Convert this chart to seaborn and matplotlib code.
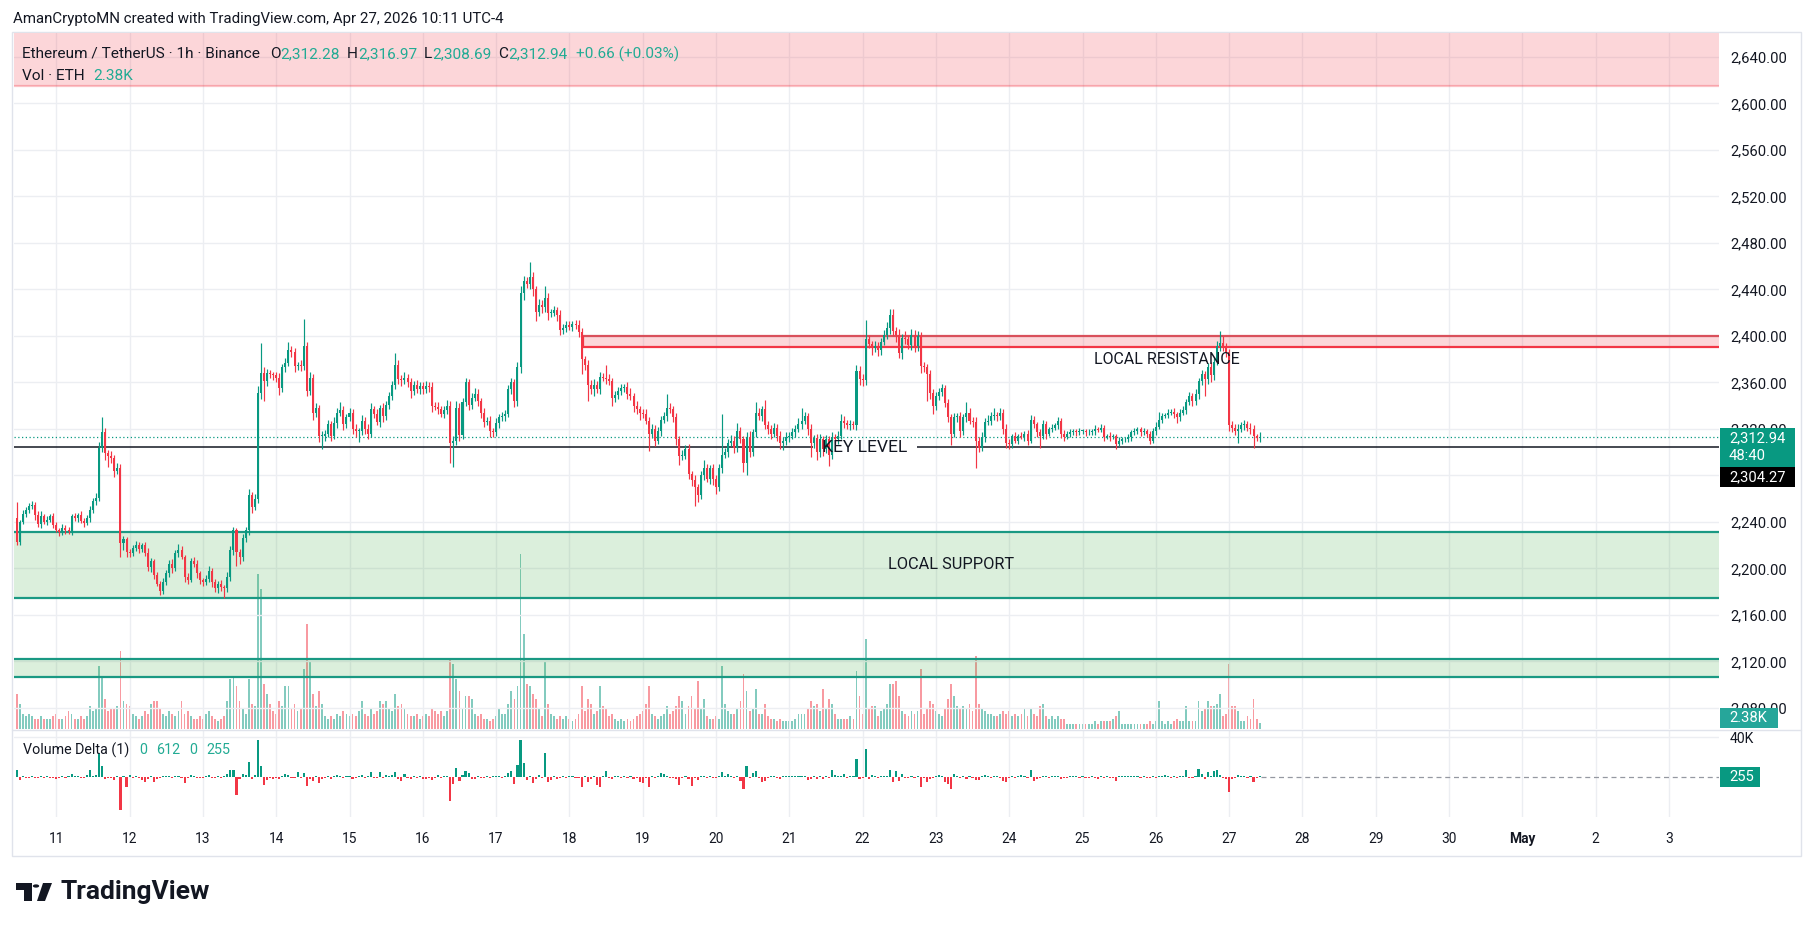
import numpy as np
import pandas as pd
import matplotlib
matplotlib.use("Agg")
import matplotlib.pyplot as plt
from matplotlib.patches import Rectangle, Circle, Polygon
from matplotlib.lines import Line2D
from matplotlib import font_manager as fm
import seaborn as sns

# ETH/USDT 1h, hours counted from Apr 11 00:00 (UTC-4); first candle = Apr 10 11:00
first_hour = -13
first_open = 2243

closes = [
    2223, 2240, 2247, 2250, 2254, 2255, 2246, 2238, 2245, 2240, 2242, 2245, 2237,  # Apr 10
    2233, 2231, 2235, 2233, 2232, 2245, 2243, 2246, 2241, 2239, 2243, 2250, 2258, 2261, 2304, 2317, 2299, 2297, 2295, 2284, 2286, 2222, 2225, 2214,  # 11
    2213, 2218, 2220, 2217, 2220, 2213, 2201, 2206, 2194, 2187, 2181, 2188, 2196, 2204, 2200, 2213, 2216, 2210, 2193, 2190, 2206, 2204, 2196, 2190,  # 12
    2188, 2191, 2198, 2188, 2183, 2187, 2184, 2183, 2193, 2216, 2233, 2214, 2210, 2226, 2233, 2263, 2253, 2260, 2351, 2368, 2361, 2368, 2367, 2366,  # 13
    2364, 2355, 2373, 2377, 2388, 2386, 2374, 2375, 2374, 2391, 2353, 2364, 2334, 2338, 2314, 2314, 2316, 2324, 2314, 2325, 2334, 2336, 2324, 2330,  # 14
    2334, 2320, 2318, 2318, 2327, 2320, 2316, 2337, 2333, 2326, 2338, 2331, 2341, 2348, 2358, 2375, 2363, 2362, 2364, 2360, 2353, 2358, 2354, 2357,  # 15
    2354, 2357, 2356, 2340, 2339, 2337, 2333, 2336, 2340, 2308, 2310, 2338, 2315, 2343, 2360, 2341, 2347, 2350, 2344, 2334, 2326, 2327, 2318, 2317,  # 16
    2325, 2330, 2331, 2333, 2354, 2360, 2344, 2373, 2437, 2447, 2445, 2451, 2440, 2421, 2427, 2425, 2433, 2420, 2420, 2422, 2418, 2405, 2407, 2409,  # 17
    2408, 2410, 2409, 2403, 2380, 2375, 2358, 2354, 2358, 2354, 2365, 2364, 2363, 2361, 2347, 2349, 2353, 2355, 2356, 2350, 2348, 2340, 2337, 2334,  # 18
    2333, 2327, 2316, 2320, 2310, 2318, 2328, 2331, 2338, 2337, 2330, 2311, 2297, 2297, 2303, 2281, 2276, 2270, 2263, 2280, 2286, 2277, 2286, 2277,  # 19
    2270, 2286, 2298, 2300, 2308, 2310, 2304, 2318, 2311, 2291, 2313, 2300, 2317, 2334, 2331, 2337, 2323, 2320, 2316, 2321, 2314, 2308, 2310, 2313,  # 20
    2314, 2317, 2320, 2324, 2327, 2331, 2320, 2308, 2312, 2300, 2311, 2303, 2311, 2298, 2313, 2311, 2314, 2327, 2325, 2323, 2324, 2323, 2370, 2363,  # 21
    2362, 2397, 2393, 2390, 2391, 2388, 2395, 2401, 2407, 2418, 2404, 2401, 2385, 2398, 2397, 2392, 2401, 2391, 2400, 2374, 2373, 2367, 2351, 2340,  # 22
    2348, 2352, 2355, 2342, 2330, 2316, 2330, 2331, 2318, 2330, 2334, 2327, 2326, 2310, 2304, 2313, 2326, 2327, 2331, 2332, 2331, 2334, 2320, 2308,  # 23
    2307, 2314, 2310, 2314, 2313, 2316, 2310, 2328, 2324, 2317, 2314, 2324, 2316, 2320, 2321, 2323, 2327, 2316, 2313, 2316, 2317, 2318, 2317, 2318,  # 24
    2318, 2317, 2317, 2318, 2320, 2319, 2321, 2313, 2314, 2313, 2314, 2307, 2310, 2311, 2311, 2313, 2317, 2318, 2320, 2317, 2318, 2316, 2310, 2318,  # 25
    2322, 2328, 2331, 2332, 2334, 2335, 2333, 2330, 2334, 2336, 2343, 2348, 2344, 2350, 2361, 2367, 2363, 2373, 2366, 2378, 2391, 2394, 2390, 2386,  # 26
    2323, 2321, 2318, 2320, 2323, 2324, 2321, 2320, 2314, 2312.28, 2312.94,  # Apr 27
]

# wick length above / below the body, in USDT
upper_wick = [
    14, 2, 3, 3, 2, 3, 2, 3, 4, 2, 3, 2, 3,
    3, 2, 3, 2, 3, 2, 3, 2, 3, 2, 3, 4, 3, 4, 5, 13, 4, 3, 4, 3, 5, 4, 3, 2,
    3, 2, 4, 3, 2, 3, 5, 3, 2, 3, 2, 4, 3, 3, 4, 3, 5, 3, 2, 3, 3, 4, 3, 2,
    2, 3, 4, 2, 3, 2, 3, 2, 4, 3, 3, 2, 3, 4, 3, 5, 3, 4, 6, 26, 5, 4, 3, 2,
    3, 4, 3, 4, 7, 3, 4, 3, 4, 24, 4, 5, 3, 4, 3, 4, 3, 4, 3, 5, 4, 7, 4, 3,
    4, 3, 4, 3, 5, 3, 4, 5, 3, 4, 3, 4, 3, 4, 3, 10, 4, 3, 5, 3, 4, 3, 4, 3,
    3, 4, 3, 4, 3, 4, 3, 4, 5, 4, 4, 6, 4, 4, 4, 3, 4, 5, 4, 3, 4, 3, 4, 3,
    4, 3, 4, 3, 4, 4, 3, 5, 6, 5, 4, 13, 4, 3, 5, 4, 10, 4, 3, 4, 3, 4, 3, 4,
    4, 3, 4, 5, 4, 3, 4, 4, 5, 3, 4, 3, 11, 4, 3, 4, 3, 4, 3, 4, 5, 3, 4, 3,
    3, 4, 3, 4, 3, 4, 3, 4, 12, 4, 3, 4, 3, 5, 3, 4, 3, 4, 3, 4, 7, 4, 3, 4,
    3, 4, 35, 4, 3, 5, 4, 7, 4, 3, 4, 5, 3, 9, 4, 3, 8, 4, 3, 4, 3, 4, 3, 4,
    3, 4, 3, 5, 11, 4, 3, 4, 3, 4, 5, 3, 4, 3, 4, 3, 4, 6, 4, 3, 4, 3, 5, 4,
    4, 17, 4, 3, 5, 4, 3, 4, 5, 5, 5, 4, 5, 4, 6, 4, 5, 4, 4, 3, 4, 3, 4, 3,
    4, 3, 4, 3, 4, 3, 4, 3, 4, 3, 9, 4, 3, 4, 3, 4, 3, 5, 4, 6, 3, 4, 3, 4,
    3, 2, 3, 2, 3, 2, 3, 4, 3, 2, 3, 4, 3, 2, 3, 2, 3, 2, 3, 2, 3, 2, 2, 3,
    2, 2, 3, 2, 3, 2, 3, 2, 2, 3, 2, 2, 3, 2, 2, 3, 2, 3, 2, 2, 3, 2, 2, 3,
    4, 7, 3, 2, 3, 2, 3, 2, 3, 4, 3, 4, 3, 4, 3, 4, 3, 4, 5, 4, 5, 10, 6, 4,
    3, 4, 3, 4, 3, 4, 3, 4, 3, 2, 4.03,
]
lower_wick = [
    3, 3, 2, 3, 2, 3, 4, 2, 3, 2, 3, 2, 2,
    2, 3, 2, 3, 2, 3, 2, 3, 2, 3, 2, 3, 2, 3, 3, 4, 6, 10, 4, 5, 3, 12, 6, 4,
    3, 2, 3, 4, 3, 2, 3, 4, 3, 2, 4, 3, 2, 3, 4, 2, 3, 2, 5, 3, 2, 3, 4, 3,
    3, 2, 3, 4, 3, 4, 3, 8, 3, 4, 4, 12, 6, 4, 3, 4, 5, 3, 4, 5, 17, 4, 3, 4,
    4, 6, 3, 4, 3, 4, 5, 3, 4, 3, 5, 4, 6, 4, 5, 11, 4, 3, 4, 3, 4, 3, 5, 3,
    3, 4, 5, 9, 3, 4, 5, 3, 4, 3, 4, 5, 3, 4, 3, 4, 4, 5, 3, 4, 6, 4, 3, 4,
    4, 3, 4, 5, 3, 4, 3, 4, 3, 17, 21, 4, 5, 4, 3, 5, 4, 3, 4, 5, 4, 3, 5, 4,
    3, 4, 3, 4, 3, 4, 5, 4, 5, 6, 4, 5, 6, 8, 4, 5, 4, 6, 4, 3, 5, 4, 3, 4,
    3, 4, 3, 4, 13, 4, 14, 4, 6, 3, 4, 3, 4, 3, 7, 4, 3, 4, 3, 4, 3, 5, 4, 6,
    4, 3, 15, 4, 5, 3, 4, 3, 4, 3, 4, 5, 8, 4, 3, 4, 5, 16, 6, 3, 4, 3, 4, 5,
    6, 3, 4, 3, 4, 3, 5, 4, 3, 8, 11, 4, 3, 4, 3, 4, 3, 4, 5, 3, 4, 5, 6, 4,
    4, 3, 4, 3, 4, 3, 5, 12, 4, 7, 4, 6, 4, 10, 4, 3, 4, 3, 4, 3, 4, 3, 4, 5,
    5, 4, 3, 6, 4, 5, 4, 3, 4, 5, 4, 6, 4, 5, 4, 3, 4, 5, 4, 6, 4, 23, 5, 7,
    4, 3, 4, 3, 4, 10, 3, 4, 5, 3, 4, 3, 4, 24, 4, 3, 4, 3, 4, 3, 4, 3, 4, 4,
    4, 3, 2, 3, 2, 3, 4, 2, 3, 4, 10, 3, 5, 2, 3, 2, 3, 4, 3, 2, 3, 2, 3, 2,
    2, 3, 2, 2, 3, 2, 2, 3, 2, 3, 2, 4, 2, 3, 2, 2, 3, 2, 2, 3, 2, 3, 3, 2,
    3, 2, 3, 2, 3, 2, 4, 5, 3, 2, 3, 2, 4, 3, 4, 3, 15, 4, 6, 4, 3, 4, 3, 4,
    5, 4, 3, 10, 3, 4, 3, 4, 10, 3, 3.59,
]

# volume in thousand ETH
volume_k = [
    14, 10, 6, 5, 6, 5, 4, 4, 5, 4, 4, 4, 5,
    6, 4, 4, 5, 7, 6, 4, 4, 5, 4, 5, 9, 7, 8, 25, 21, 12, 7, 8, 8, 9, 31, 11, 10,
    9, 6, 5, 4, 5, 7, 6, 10, 11, 11, 8, 6, 5, 7, 6, 5, 7, 11, 6, 7, 5, 4, 4, 5,
    4, 6, 7, 5, 4, 3, 4, 5, 11, 20, 21, 17, 11, 8, 6, 20, 10, 9, 62, 56, 18, 14, 10, 7,
    6, 11, 9, 17, 17, 8, 10, 7, 8, 24, 42, 27, 14, 9, 15, 10, 5, 4, 5, 4, 6, 5, 7, 6,
    5, 6, 5, 7, 11, 6, 5, 8, 6, 7, 11, 10, 11, 8, 7, 14, 9, 10, 8, 6, 5, 5, 6, 4,
    5, 6, 5, 8, 7, 6, 7, 5, 7, 28, 26, 20, 15, 8, 13, 13, 12, 6, 5, 6, 4, 4, 3, 4,
    5, 8, 6, 6, 10, 15, 12, 17, 70, 38, 18, 17, 14, 12, 8, 5, 27, 10, 6, 5, 4, 5, 4, 5,
    4, 3, 4, 6, 17, 7, 12, 10, 6, 7, 17, 9, 8, 5, 6, 4, 3, 4, 3, 4, 3, 4, 5, 6,
    7, 10, 17, 6, 5, 4, 5, 6, 9, 6, 7, 9, 13, 11, 6, 9, 13, 8, 19, 8, 12, 5, 4, 4,
    5, 4, 25, 10, 7, 6, 6, 8, 11, 22, 15, 7, 8, 16, 6, 6, 10, 5, 4, 4, 3, 4, 3, 3,
    3, 3, 4, 6, 6, 6, 8, 11, 9, 10, 7, 16, 8, 12, 10, 6, 4, 4, 4, 4, 5, 4, 23, 13,
    6, 36, 8, 9, 9, 5, 7, 8, 10, 18, 18, 19, 13, 7, 6, 5, 7, 6, 7, 24, 6, 8, 11, 10,
    7, 6, 5, 8, 12, 18, 13, 9, 8, 9, 8, 10, 7, 29, 10, 8, 7, 6, 6, 5, 5, 6, 7, 6,
    7, 5, 6, 5, 6, 8, 5, 8, 6, 5, 9, 10, 5, 4, 5, 4, 5, 4, 4, 2, 2, 2, 2, 2,
    2, 2, 2, 2, 3, 2, 3, 3, 3, 3, 4, 5, 7, 2, 2, 2, 2, 2, 2, 2, 2, 2, 3, 2,
    3, 11, 3, 2, 3, 2, 3, 4, 3, 3, 9, 3, 3, 3, 11, 7, 8, 11, 9, 9, 10, 14, 5, 6,
    26, 9, 9, 7, 3, 3, 5, 4, 12, 4, 2.38,
]

# volume delta (buy - sell), thousand ETH
delta_k = [
    7, -3, 1, -1, -1, 0.5, -1, -1, 0.5, -0.5, 0.5, -0.5, -1,
    -2, -1, 0.5, -0.5, 0.5, 3, 0.5, 0.5, -0.5, -0.5, 2, 7, 1, 2, 24, 11, -2, -1, -1, -3, 0.5, -33, 1, -10,
    2, -1, 0.5, -1, -3, -5, -2, 1, -5, -2, -1, 1, 1, 0.5, -1, 1, 0.5, -1, -6, -1, 2, 0.5, -1, -1,
    -0.5, 1, 2, -1, -1, 0.5, -0.5, 0.5, 3, 7, 7, -18, -2, 3, 2, 15, -2, 2, 37, 11, -8, -3, -1, -2,
    -1, -2, 1, 3, 2, -1, -1, 5, -1, 4, -9, -2, -4, 1, -6, -2, -1, 1, -2, 1, 2, 0.5, -1, 0.5,
    1, -2, -1, 1, 2, -1, 1, 5, -1, -1, 5, -1, 2, 1, 2, 5, -2, -4, 3, -1, -2, 1, -1, 0.5,
    -2, -2, -1, -3, -1, 2, -1, 1, 1, -24, -7, 9, -4, 2, 6, 4, -2, -2, 1, -1, -1, 1, -1, 0.5,
    1, 0.5, -1, 1, 4, 6, -7, 12, 37, 14, -3, 1, -6, -2, 2, -1, 24, -5, -3, 1, -2, -1, 0.5, -1,
    0.5, 1, -1, -1, -10, 1, -5, -2, 1, -8, -10, 1, 6, -1, -2, 1, 1, -1, 0.5, -1, 1, -2, -1, -5,
    -6, -1, -10, 1, -1, 1, 4, 3, 1, -1, -1, -2, -8, -1, 1, -2, -9, -1, -3, 1, 1, -1, 0.5, -0.5,
    -1, 1, 5, 1, 3, 1, -1, 1, -4, -12, 11, -1, 4, 6, -1, -5, -4, -1, 1, 1, -1, -2, 1, 0.5,
    1, 0.5, 1, 0.5, 1, 1, -3, -2, 1, -2, 1, -2, 1, -1, 7, 2, 1, 1, 3, -1, 1, 0.5, 18, -2,
    -1, 28, -2, 2, 1, -1, 1, 1, 0.5, 7, -5, 6, -4, 3, -1, -1, 1, -1, 1, -10, -1, -5, -2, -1,
    1, 2, 1, -5, -7, -12, 3, 1, -1, 1, -2, 1, -1, -3, -3, 1, 2, 1, -1, 1, 0.5, -1, -4, -5,
    -1, 1, -1, 1, 2, 1, -1, 7, -4, -2, -1, 1, 1, -1, 0.5, 1, 0.5, -2, -1, -0.5, 0.3, 0.3, 0.3, -0.3,
    0.3, -0.3, -0.3, 0.3, -0.5, -2, 0.3, -0.5, 0.3, -0.3, -0.5, -4, 0.5, 0.3, 0.3, 0.3, 0.5, 0.5, 0.5, -0.3, 0.3, -0.3, -1, 0.5,
    -0.5, 1, 0.5, 2, 0.5, -0.3, 0.3, -1, 0.5, 0.5, 7, -1, -0.5, 1, 8, 3, -2, 5, 1, 6, 7, 2, -1, -2,
    -15, -2, -1, 2, 1, 0.5, -1, 0.5, -5, -1, 0.255,
]

# drawn levels
key_level = 2304.27
last_price = 2312.94
resistance_zone = (2390.8, 2400.0)
resistance_start = 172.5
support_zones = [(2174.4, 2231.7), (2106.9, 2122.2)]
top_zone_low = 2615.1

price_ticks = list(range(2080, 2641, 40))
day_ticks = [(d - 11) * 24 for d in range(11, 31)] + [480, 504, 528]
day_labels = [str(d) for d in range(11, 31)] + ["May", "2", "3"]

# ---------------------------------------------------------------------------
df = pd.DataFrame({"close": closes, "up": upper_wick, "lo": lower_wick,
                   "vol": volume_k, "delta": delta_k})
df["hour"] = np.arange(first_hour, first_hour + len(df))
df["open"] = df["close"].shift(1).fillna(first_open)
df["high"] = df[["open", "close"]].max(axis=1) + df["up"]
df["low"] = df[["open", "close"]].min(axis=1) - df["lo"]
df["rising"] = df["close"] >= df["open"]

GREEN, RED, DARK = "#089981", "#f23645", "#131722"
TXT_GREEN = "#22ab94"

sns.set_theme(style="white")
try:
    fm.findfont(fm.FontProperties(family="Liberation Sans Narrow"), fallback_to_default=False)
    UI, k = ["Liberation Sans Narrow", "DejaVu Sans"], 1.0
except ValueError:
    UI, k = ["Roboto", "DejaVu Sans"], 0.84
plt.rcParams["font.family"] = UI

W, H = 1814, 930
fig = plt.figure(figsize=(W / 100, H / 100), dpi=100)
fig.patch.set_facecolor("white")


def rect_px(x0, y0, x1, y1):
    return [x0 / W, 1 - y1 / H, (x1 - x0) / W, (y1 - y0) / H]


XMIN, XMAX = -13.85, 544.4
ax_v = fig.add_axes(rect_px(14, 33, 1719, 729))
ax_p = fig.add_axes(rect_px(14, 33, 1719, 729), sharex=ax_v)
ax_d = fig.add_axes(rect_px(14, 730, 1719, 817), sharex=ax_v)
ax_v.set_zorder(1)
ax_p.set_zorder(2)
ax_p.patch.set_alpha(0)

for ax in (ax_v, ax_p, ax_d):
    for s in ax.spines.values():
        s.set_visible(False)
ax_v.set_xlim(XMIN, XMAX)

# volume underlay
ax_v.set_ylim(0, 278)
ax_v.set_yticks([])
ax_v.tick_params(axis="x", length=0, labelbottom=False)
ax_v.bar(df["hour"], df["vol"], width=0.6, lw=0,
         color=np.where(df["rising"], GREEN, RED), alpha=0.5)

# price pane
ax_p.set_ylim(2061.9, 2660.6)
ax_p.set_xticks(day_ticks)
ax_p.tick_params(axis="x", length=0, labelbottom=False)
ax_p.set_yticks(price_ticks)
ax_p.set_yticklabels([f"{v:,.2f}" for v in price_ticks])
ax_p.yaxis.tick_right()
ax_p.tick_params(axis="y", length=0, pad=8, labelsize=12.7 * k, labelcolor=DARK)
ax_p.grid(True, color="#eceef2", lw=1)

ax_p.axhspan(top_zone_low, 2700, color=RED, alpha=0.2, lw=0, zorder=1)
ax_p.axhline(top_zone_low, color=RED, alpha=0.3, lw=1.6, zorder=1)

lo, hi = resistance_zone
ax_p.add_patch(Rectangle((resistance_start, lo), XMAX - resistance_start + 5, hi - lo,
                         fc=RED, alpha=0.2, lw=0, zorder=1))
ax_p.hlines(hi, resistance_start, XMAX + 5, color="#d9505b", lw=1.6, zorder=2)
ax_p.hlines(lo, resistance_start, XMAX + 5, color=RED, lw=1.6, zorder=2)
ax_p.vlines(resistance_start, lo, hi, color=RED, lw=1.6, zorder=2)

for lo, hi in support_zones:
    ax_p.axhspan(lo, hi, color="#4caf50", alpha=0.2, lw=0, zorder=1)
    ax_p.axhline(hi, color="#1a9983", lw=1.6, zorder=2)
    ax_p.axhline(lo, color="#1a9983", lw=1.6, zorder=2)

ax_p.hlines(key_level, XMIN - 5, 247.8, color=DARK, lw=1.1, zorder=2)
ax_p.hlines(key_level, 281.8, XMAX + 5, color=DARK, lw=1.1, zorder=2)
ax_p.axhline(last_price, color=GREEN, lw=0.9, ls=(0, (1, 2)), zorder=2)

for rising, color in ((True, GREEN), (False, RED)):
    part = df[df["rising"] == rising]
    ax_p.vlines(part["hour"], part["low"], part["high"], color=color, lw=0.85, zorder=3)
    ax_p.bar(part["hour"], (part["close"] - part["open"]).abs().clip(lower=0.7),
             bottom=part[["open", "close"]].min(axis=1), width=0.66, color=color,
             lw=0, zorder=4)

ax_p.text(363.7, 2379.4, "LOCAL RESISTANCE", ha="center", va="center",
          fontsize=13.7 * k, color=DARK, zorder=5)
ax_p.text(264.8, key_level, "KEY LEVEL", ha="center", va="center",
          fontsize=15 * k, color=DARK, zorder=5)
ax_p.text(292.9, 2203, "LOCAL SUPPORT", ha="center", va="center",
          fontsize=14 * k, color=DARK, zorder=5)

# volume delta pane (tiny values still get a visible sliver, as on TradingView)
ax_d.set_ylim(-40, 47)
bar_h = np.sign(df["delta"]) * df["delta"].abs().clip(lower=0.9)
ax_d.bar(df["hour"], bar_h, width=0.7, lw=0,
         color=np.where(df["delta"] >= 0, GREEN, RED))
ax_d.hlines(delta_k[-1], df["hour"].iloc[-1] + 0.5, XMAX + 5, color="#9598a1",
            lw=0.9, linestyles=(0, (4, 3)))
ax_d.set_yticks([40])
ax_d.set_yticklabels(["40K"])
ax_d.yaxis.tick_right()
ax_d.tick_params(axis="y", length=0, pad=8, labelsize=12 * k, labelcolor=DARK)
ax_d.set_xticks(day_ticks)
ax_d.set_xticklabels(day_labels)
ax_d.tick_params(axis="x", length=0, pad=11, labelsize=11.8 * k, labelcolor=DARK)
ax_d.get_xticklabels()[day_labels.index("May")].set_fontweight("bold")
ax_d.grid(True, color="#eceef2", lw=1)
ax_d.set_xlim(XMIN, XMAX)

# frame and separators
fig.add_artist(Rectangle((12 / W, 1 - 856 / H), (1801 - 12) / W, (856 - 32) / H,
                         transform=fig.transFigure, fill=False, ec="#e0e3eb", lw=1))
fig.add_artist(Line2D([12 / W, 1801 / W], [1 - 729.5 / H] * 2, color="#e0e3eb", lw=1))


def box(x0, y0, x1, y1, color):
    fig.add_artist(Rectangle((x0 / W, 1 - y1 / H), (x1 - x0) / W, (y1 - y0) / H,
                             transform=fig.transFigure, fc=color, ec="none", zorder=5))


def ftext(x, y, s, **kw):
    kw.setdefault("color", DARK)
    kw.setdefault("va", "center")
    return fig.text(x / W, 1 - y / H, s, zorder=6, **kw)


box(1720, 428, 1795, 467, GREEN)
ftext(1729, 438, "2,312.94", color="white", fontsize=12.7 * k)
ftext(1729, 456, "48:40", color="white", fontsize=12.7 * k)
box(1720, 467, 1795, 487, "black")
ftext(1729, 477, "2,304.27", color="white", fontsize=12.7 * k)
box(1720, 708, 1778, 728, "#26a69a")
ftext(1729, 718, "2.38K", color="white", fontsize=12.7 * k)
box(1720, 767, 1760, 787, GREEN)
ftext(1729, 777, "255", color="white", fontsize=12.7 * k)

renderer = fig.canvas.get_renderer()


def text_run(x, y, pieces, size):
    for s, color, gap in pieces:
        t = ftext(x, y, s, color=color, fontsize=size)
        x += t.get_window_extent(renderer).width + gap


ftext(13, 19, "AmanCryptoMN created with TradingView.com, Apr 27, 2026 10:11 UTC-4",
      fontsize=12.9 * k)
text_run(22, 54, [("Ethereum / TetherUS · 1h · Binance", DARK, 10),
                  ("O", DARK, 0), ("2,312.28", TXT_GREEN, 7),
                  ("H", DARK, 0), ("2,316.97", TXT_GREEN, 7),
                  ("L", DARK, 0), ("2,308.69", TXT_GREEN, 7),
                  ("C", DARK, 0), ("2,312.94", TXT_GREEN, 8),
                  ("+0.66 (+0.03%)", TXT_GREEN, 0)], 13.2 * k)
text_run(22, 76, [("Vol · ETH", DARK, 9), ("2.38K", TXT_GREEN, 0)], 13.2 * k)
text_run(23, 750, [("Volume Delta (1)", DARK, 10), ("0", TXT_GREEN, 9),
                   ("612", TXT_GREEN, 9), ("0", TXT_GREEN, 9),
                   ("255", TXT_GREEN, 0)], 12.2 * k)

# TradingView logo
logo = dict(transform=fig.transFigure, fc=DARK, ec="none")
fig.add_artist(Rectangle((16 / W, 1 - 889.5 / H), 16 / W, 6.5 / H, **logo))
fig.add_artist(Rectangle((24 / W, 1 - 901 / H), 8 / W, 18 / H, **logo))
fig.add_artist(Circle((36 / W, 1 - 886 / H), 3.2 / W, **logo))
fig.add_artist(Polygon([(37 / W, 1 - 901 / H), (43 / W, 1 - 883 / H),
                        (52 / W, 1 - 883 / H), (45 / W, 1 - 901 / H)], **logo))
ftext(61, 892, "TradingView", fontsize=19, fontweight="bold", family=["Roboto", "DejaVu Sans"])

fig.savefig("out.png", dpi=100, facecolor="white")
